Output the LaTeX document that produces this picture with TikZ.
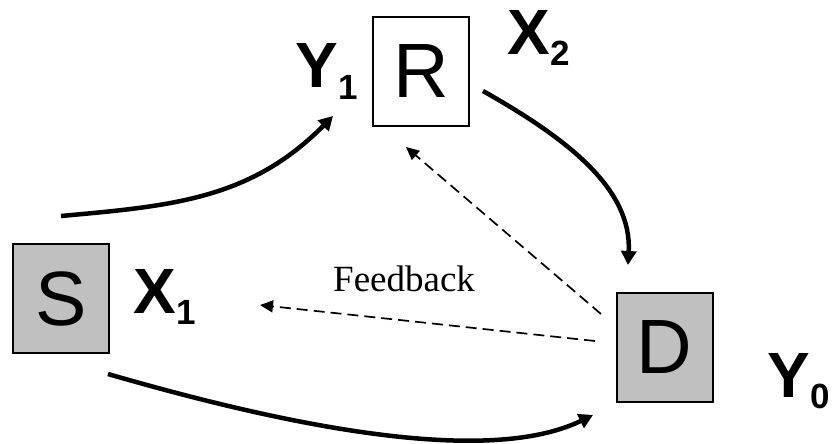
\documentclass[tikz,border=0pt]{standalone}
\usepackage{fontspec}
\setmainfont{Liberation Sans}
\newfontfamily\fbserif{Liberation Serif}
\usetikzlibrary{arrows.meta}
\definecolor{boxgray}{HTML}{C0C0C0}
\newcommand{\sublab}[2]{\fontsize{64}{64}\selectfont\bfseries #1\kern1pt\raisebox{-11pt}{\fontsize{35}{35}\selectfont #2}}
\tikzset{
  box/.style={draw=black, line width=2pt, inner sep=0pt, minimum width=96pt, minimum height=109pt, font=\fontsize{77}{77}\selectfont},
  graybox/.style={box, fill=boxgray},
  lab/.style={inner sep=0pt, anchor=base west},
  flow/.style={line width=4.5pt, -{Triangle[length=14pt,width=15pt]}},
  fback/.style={line width=1.7pt, dash pattern=on 11pt off 6pt, -{Triangle[length=13pt,width=12pt]}}
}
\begin{document}
\begin{tikzpicture}[x=1pt,y=-1pt]
\useasboundingbox (0,0) rectangle (832,444);
% boxes
\node[box] (R) at (421,71.5) {R};
\node[graybox] (S) at (61,298.5) {S};
\node[graybox] (D) at (664.5,347.5) {D};
% labels
\node[lab] (Y1) at (295,88) {\sublab{Y}{1}};
\node[lab] (X2) at (507,55) {\sublab{X}{2}};
\node[lab] (X1) at (133,313) {\sublab{X}{1}};
\node[lab] (Y0) at (767,397) {\sublab{Y}{0}};
\node[lab, font=\fbserif\fontsize{37}{37}\selectfont] (fb) at (333,291) {Feedback};
% free ends of connectors
\coordinate (sr0) at (61,216);
\coordinate (sr1) at (333,116);
\coordinate (rd0) at (483,91);
\coordinate (rd1) at (628,265);
\coordinate (sd0) at (108,374);
\coordinate (sd1) at (593,415);
\coordinate (dr0) at (601,314);
\coordinate (dr1) at (406,147);
\coordinate (ds0) at (595,341);
\coordinate (ds1) at (260,305);
% solid flows
\draw[flow] (sr0) .. controls (170,206) and (250,200) .. (sr1);
\draw[flow] (rd0) .. controls (570,140) and (632,190) .. (rd1);
\draw[flow] (sd0) .. controls (260,418) and (480,470) .. (sd1);
% feedback (dashed)
\draw[fback] (dr0) -- (dr1);
\draw[fback] (ds0) -- (ds1);
\end{tikzpicture}
\end{document}
